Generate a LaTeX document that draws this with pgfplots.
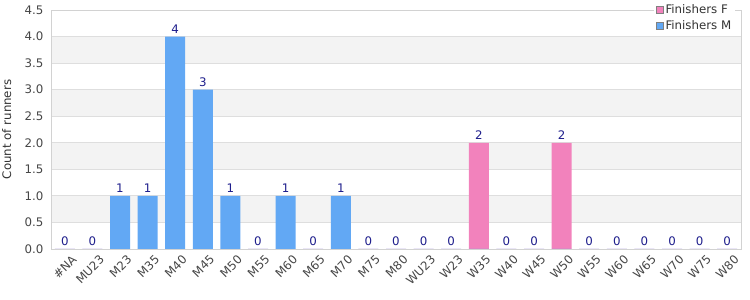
\documentclass[border=0pt]{standalone}
\usepackage{fontspec}
\setmainfont{DejaVu Sans}
\usepackage{pgfplots}
\pgfplotsset{compat=1.18}
\definecolor{barM}{RGB}{98,168,244}
\definecolor{barF}{RGB}{242,130,188}
\definecolor{lab}{RGB}{30,30,140}
\definecolor{band}{RGB}{243,243,243}
\definecolor{gridc}{RGB}{222,222,222}
\definecolor{framec}{RGB}{210,210,210}
\definecolor{tickc}{RGB}{70,70,70}
\newcommand{\chartfont}{\fontsize{11.8}{13}\selectfont}
\begin{document}
\begin{tikzpicture}
\begin{axis}[
 set layers=standard,
 at={(51pt,51pt)}, anchor=south west,
 scale only axis, width=690pt, height=239pt,
 xmin=-0.5, xmax=24.5, ymin=0, ymax=4.5,
 ytick={0,0.5,1,1.5,2,2.5,3,3.5,4,4.5},
 yticklabel style={/pgf/number format/fixed,/pgf/number format/fixed zerofill,/pgf/number format/precision=1},
 /pgf/number format/assume math mode=true,
 xtick={0,...,24},
 xticklabels={\#NA,MU23,M23,M35,M40,M45,M50,M55,M60,M65,M70,M75,M80,WU23,W23,W35,W40,W45,W50,W55,W60,W65,W70,W75,W80},
 xticklabel style={rotate=45, anchor=north east, font=\chartfont, text=tickc, inner sep=1pt, yshift=-7pt, xshift=2pt},
 yticklabel style={font=\chartfont, text=tickc, xshift=-4pt},
 major tick length=0pt,
 ymajorgrids, grid style={gridc, line width=0.8pt},
 axis line style={framec, line width=0.8pt},
 ylabel={Count of runners},
 ylabel style={at={(axis description cs:-0.064,0.5)}, anchor=center, font=\chartfont, text=black!80},
 legend style={at={(axis description cs:0.992,1.042)}, anchor=north east, draw=none, fill=white,
   font=\chartfont, text=black!80, row sep=1.5pt, inner sep=2pt},
 legend cell align=left,
 legend image code/.code={\draw[#1, draw=gray, line width=0.6pt] (-7pt,-3.5pt) rectangle (0pt,3.5pt);},
]
\addplot[on layer=axis background, fill=band, draw=none, forget plot] coordinates {(-0.5,0.5)(24.5,0.5)(24.5,1)(-0.5,1)} -- cycle;
\addplot[on layer=axis background, fill=band, draw=none, forget plot] coordinates {(-0.5,1.5)(24.5,1.5)(24.5,2)(-0.5,2)} -- cycle;
\addplot[on layer=axis background, fill=band, draw=none, forget plot] coordinates {(-0.5,2.5)(24.5,2.5)(24.5,3)(-0.5,3)} -- cycle;
\addplot[on layer=axis background, fill=band, draw=none, forget plot] coordinates {(-0.5,3.5)(24.5,3.5)(24.5,4)(-0.5,4)} -- cycle;
\addplot[ybar, bar width=20pt, bar shift=0pt, fill=barF, draw=none] coordinates {
(0,0)(1,0)(2,0)(3,0)(4,0)(5,0)(6,0)(7,0)(8,0)(9,0)(10,0)(11,0)(12,0)(13,0)(14,0)(15,2)(16,0)(17,0)(18,2)(19,0)(20,0)(21,0)(22,0)(23,0)(24,0)};
\addlegendentry{Finishers F}
\addplot[ybar, bar width=20pt, bar shift=0pt, fill=barM, draw=none] coordinates {
(0,0)(1,0)(2,1)(3,1)(4,4)(5,3)(6,1)(7,0)(8,1)(9,0)(10,1)(11,0)(12,0)(13,0)(14,0)(15,0)(16,0)(17,0)(18,0)(19,0)(20,0)(21,0)(22,0)(23,0)(24,0)};
\addlegendentry{Finishers M}
\addplot[ybar, bar width=20pt, bar shift=0pt, draw=none, fill=none, forget plot,
  nodes near coords, nodes near coords style={font=\chartfont, text=lab, inner sep=3.2pt}] coordinates {
(0,0)(1,0)(2,1)(3,1)(4,4)(5,3)(6,1)(7,0)(8,1)(9,0)(10,1)(11,0)(12,0)(13,0)(14,0)(15,2)(16,0)(17,0)(18,2)(19,0)(20,0)(21,0)(22,0)(23,0)(24,0)};
\end{axis}
\pgfresetboundingbox
\path[use as bounding box] (0pt,0pt) rectangle (750pt,300pt);
\end{tikzpicture}
\end{document}
